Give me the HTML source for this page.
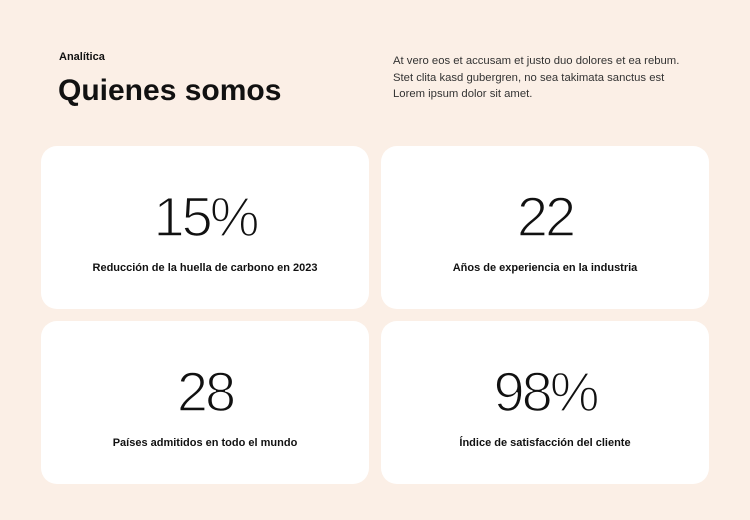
<!DOCTYPE html>
<html><head><meta charset="utf-8"><style>
*{margin:0;padding:0;box-sizing:border-box}
body{width:750px;height:520px;background:#fbefe6;font-family:"Liberation Sans",sans-serif;color:#111;position:relative;overflow:hidden}
.a{position:absolute;left:59px;top:51px;font-size:11px;font-weight:bold}
h1{position:absolute;left:58px;top:74px;font-size:30px;font-weight:bold;letter-spacing:0px}
p{position:absolute;left:393px;top:53px;font-size:11.3px;line-height:16.5px;color:#333;width:300px}
.c{position:absolute;width:328px;height:163px;background:#fff;border-radius:16px;text-align:center}
.n{position:absolute;left:0;right:0;top:39px;font-size:56px;font-weight:normal;letter-spacing:-3px;line-height:64px;color:#111;-webkit-text-stroke:1.6px #fff;paint-order:normal}
.l{position:absolute;left:0;right:0;top:116px;font-size:11px;font-weight:bold}
</style></head><body>
<div class="a">Analítica</div>
<h1>Quienes somos</h1>
<p>At vero eos et accusam et justo duo dolores et ea rebum. Stet clita kasd gubergren, no sea takimata sanctus est Lorem ipsum dolor sit amet.</p>
<div class="c" style="left:41px;top:146px"><div class="n">15%</div><div class="l">Reducción de la huella de carbono en 2023</div></div>
<div class="c" style="left:381px;top:146px"><div class="n">22</div><div class="l">Años de experiencia en la industria</div></div>
<div class="c" style="left:41px;top:321px"><div class="n">28</div><div class="l">Países admitidos en todo el mundo</div></div>
<div class="c" style="left:381px;top:321px"><div class="n">98%</div><div class="l">Índice de satisfacción del cliente</div></div>
</body></html>
